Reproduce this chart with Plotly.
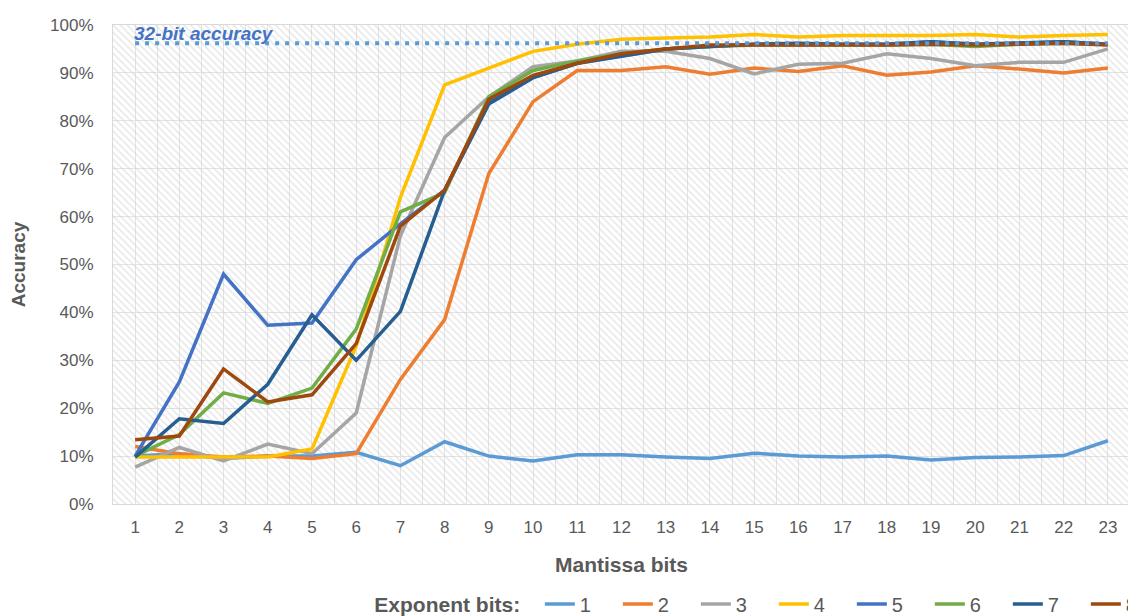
import plotly.graph_objects as go

mantissa_bits = list(range(1, 24))
tick_labels = [str(m) for m in mantissa_bits]
y_tick_vals = [i / 10 for i in range(11)]
y_tick_labels = [f"{i*10}%" for i in range(11)]

exp_1 = [10.0, 10.5, 9.5, 10.0, 10.0, 10.8, 8.0, 13.0, 10.0, 9.0, 10.3, 10.3, 9.8, 9.5, 10.6, 10.0, 9.8, 10.0, 9.2, 9.7, 9.8, 10.1, 13.2]
exp_2 = [12.0, 10.5, 9.8, 10.0, 9.5, 10.5, 26.0, 38.5, 69.0, 84.0, 90.5, 90.5, 91.3, 89.7, 91.0, 90.3, 91.5, 89.5, 90.2, 91.5, 90.8, 90.0, 91.0]
exp_3 = [7.7, 11.8, 9.0, 12.5, 10.5, 19.0, 56.0, 76.5, 85.0, 91.3, 92.5, 94.5, 94.5, 93.0, 89.8, 91.8, 92.0, 94.0, 93.0, 91.5, 92.2, 92.2, 95.0]
exp_4 = [9.8, 9.8, 9.8, 9.8, 11.5, 33.0, 64.0, 87.5, 91.0, 94.5, 96.0, 97.0, 97.3, 97.5, 98.0, 97.5, 97.8, 97.8, 97.8, 98.0, 97.5, 97.8, 98.0]
exp_5 = [10.0, 25.5, 48.0, 37.3, 37.8, 51.0, 58.5, 65.5, 84.0, 89.0, 92.0, 93.5, 95.0, 95.5, 96.0, 96.0, 96.0, 96.0, 96.5, 96.0, 96.2, 96.5, 96.0]
exp_6 = [10.0, 14.5, 23.2, 21.0, 24.2, 36.5, 61.0, 65.0, 85.0, 90.5, 92.5, 94.0, 95.0, 95.5, 95.8, 95.8, 95.8, 95.8, 96.0, 95.5, 96.0, 96.2, 96.0]
exp_7 = [9.8, 17.8, 16.8, 25.0, 39.5, 30.0, 40.2, 65.5, 83.5, 89.0, 92.0, 93.5, 95.0, 95.5, 96.0, 96.2, 96.0, 96.0, 96.5, 96.0, 96.2, 96.5, 96.0]
exp_8 = [13.4, 14.2, 28.2, 21.3, 22.8, 33.5, 58.0, 65.5, 84.5, 89.5, 92.0, 94.0, 95.0, 95.8, 95.8, 95.8, 95.8, 95.8, 96.0, 95.8, 96.0, 96.2, 95.8]

series_names = ["1", "2", "3", "4", "5", "6", "7", "8"]
series_values = [exp_1, exp_2, exp_3, exp_4, exp_5, exp_6, exp_7, exp_8]
series_colors = ["#5B9BD5", "#ED7D31", "#A5A5A5", "#FFC000", "#4472C4", "#70AD47", "#255E91", "#9E480E"]

baseline_label = "32-bit accuracy"
baseline_value = 96.2

fig = go.Figure()

# hatched plot-area background
fig.add_trace(go.Bar(
    x=[12], y=[1.0], width=[23], base=[0],
    marker=dict(color="rgba(0,0,0,0)", line=dict(width=0),
                pattern=dict(shape="\\", fgcolor="#CFCFCF", bgcolor="rgba(0,0,0,0)",
                             size=5, solidity=0.3, fillmode="overlay")),
    showlegend=False, hoverinfo="skip",
))

for name, vals, col in zip(series_names, series_values, series_colors):
    fig.add_trace(go.Scatter(
        x=mantissa_bits, y=[v / 100 for v in vals], mode="lines", name=name,
        line=dict(color=col, width=3.5),
    ))

fig.add_trace(go.Scatter(
    x=mantissa_bits, y=[baseline_value / 100] * len(mantissa_bits), mode="lines",
    line=dict(color="#5B9BD5", width=4, dash="4px,6px"), showlegend=False,
))

fig.add_annotation(
    x=mantissa_bits[0], y=baseline_value / 100, xref="x", yref="y",
    text=f"<b><i>{baseline_label}</i></b>", showarrow=False,
    xanchor="left", yanchor="bottom", yshift=-3, xshift=-3,
    font=dict(family="Liberation Sans", size=19, color="#4472C4"),
)

fig.update_layout(
    width=1136, height=616,
    margin=dict(l=105, r=14, t=17, b=120, autoexpand=False),
    paper_bgcolor="white", plot_bgcolor="white",
    font=dict(family="Liberation Sans", size=17, color="#595959"),
    barmode="overlay",
    xaxis=dict(
        range=[0.5, 23.5], tickvals=mantissa_bits, ticktext=tick_labels,
        showgrid=True, gridcolor="#E3E3E3", gridwidth=1,
        minor=dict(tick0=0.5, dtick=1, showgrid=True, gridcolor="#E3E3E3", gridwidth=1),
        showline=True, linecolor="#D9D9D9", linewidth=1, mirror=True,
        ticks="", zeroline=False, automargin=False, ticklabelstandoff=8,
        title=dict(text="<b>Mantissa bits</b>", font=dict(size=21, color="#595959"), standoff=20),
    ),
    yaxis=dict(
        range=[0, 1.0], tickvals=y_tick_vals, ticktext=y_tick_labels,
        showgrid=True, gridcolor="#E3E3E3", gridwidth=1,
        showline=True, linecolor="#D9D9D9", linewidth=1, mirror=True,
        ticks="", zeroline=False, ticklabelstandoff=15, automargin=False,
        title=dict(text="<b>Accuracy</b>", font=dict(size=19, color="#595959"), standoff=20),
    ),
    legend=dict(
        orientation="h", x=0.255, xanchor="left", y=-0.209, yanchor="middle",
        title=dict(text="<b>Exponent bits:</b>  ", font=dict(size=21, color="#595959")),
        font=dict(size=20, color="#595959"),
        entrywidth=33, entrywidthmode="pixels", bgcolor="rgba(0,0,0,0)",
    ),
)

fig.write_html("out.html")
